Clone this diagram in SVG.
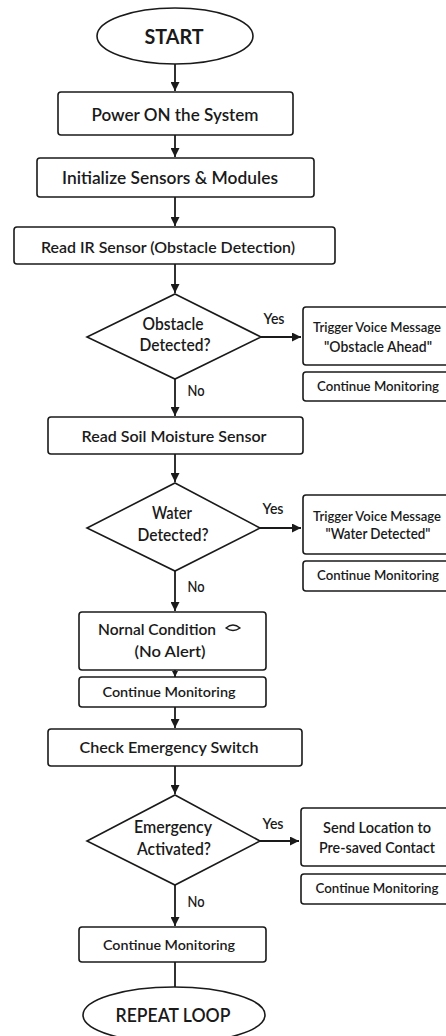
<svg xmlns="http://www.w3.org/2000/svg" width="446" height="1036" viewBox="0 0 446 1036">
  <style>
    .shape { fill: #ffffff; stroke: #1a1a1a; stroke-width: 1.6; }
    .line { fill: none; stroke: #1a1a1a; stroke-width: 1.8; }
    text { font-family: "Lato", "Open Sans", sans-serif; fill: #1a1a1a; text-anchor: middle; font-weight: 600; }
    .t17 { font-size: 16.5px; }
    .t16 { font-size: 15.5px; }
    .t15 { font-size: 14.5px; }
    .t14 { font-size: 14px; }
    .tv { font-size: 13px; }
    .lbl { font-size: 14.5px; }
    .term { font-size: 21px; font-weight: 700; }
  </style>
  <defs>
    <marker id="arrow" viewBox="0 0 10 10" refX="10" refY="5" markerWidth="9" markerHeight="9" orient="auto" markerUnits="userSpaceOnUse">
      <path d="M0,0 L10,5 L0,10 Z" fill="#1a1a1a"/>
    </marker>
    <marker id="arrow-small" viewBox="0 0 10 10" refX="10" refY="5" markerWidth="6" markerHeight="8" orient="auto" markerUnits="userSpaceOnUse">
      <path d="M0,0 L10,5 L0,10 Z" fill="#1a1a1a"/>
    </marker>
  </defs>
  <rect width="446" height="1036" fill="#ffffff"/>

  <!-- connectors -->
  <g id="connectors">
    <line class="line" x1="175" y1="64" x2="175" y2="91" marker-end="url(#arrow)"/>
    <line class="line" x1="175" y1="135" x2="175" y2="157" marker-end="url(#arrow)"/>
    <line class="line" x1="175" y1="197" x2="175" y2="226" marker-end="url(#arrow)"/>
    <line class="line" x1="175" y1="264" x2="175" y2="293" marker-end="url(#arrow)"/>
    <line class="line" x1="261" y1="337" x2="301" y2="337" marker-end="url(#arrow)"/>
    <line class="line" x1="175" y1="379" x2="175" y2="416" marker-end="url(#arrow)"/>
    <line class="line" x1="175" y1="454" x2="175" y2="482" marker-end="url(#arrow)"/>
    <line class="line" x1="260" y1="528" x2="301" y2="528" marker-end="url(#arrow)"/>
    <line class="line" x1="175" y1="571" x2="175" y2="611" marker-end="url(#arrow)"/>
    <line class="line" x1="175" y1="670" x2="175" y2="677" marker-end="url(#arrow-small)"/>
    <line class="line" x1="175" y1="707" x2="175" y2="728" marker-end="url(#arrow)"/>
    <line class="line" x1="175" y1="766" x2="175" y2="794" marker-end="url(#arrow)"/>
    <line class="line" x1="260" y1="841" x2="299" y2="841" marker-end="url(#arrow)"/>
    <line class="line" x1="175" y1="885" x2="175" y2="926" marker-end="url(#arrow)"/>
    <line class="line" x1="175" y1="962" x2="175" y2="987"/>
    <text class="lbl" x="274" y="324" textLength="21" lengthAdjust="spacingAndGlyphs">Yes</text>
    <text class="lbl" x="196" y="396" textLength="17" lengthAdjust="spacingAndGlyphs">No</text>
    <text class="lbl" x="273" y="514" textLength="21" lengthAdjust="spacingAndGlyphs">Yes</text>
    <text class="lbl" x="196" y="592" textLength="17" lengthAdjust="spacingAndGlyphs">No</text>
    <text class="lbl" x="273" y="829" textLength="21" lengthAdjust="spacingAndGlyphs">Yes</text>
    <text class="lbl" x="196" y="907" textLength="17" lengthAdjust="spacingAndGlyphs">No</text>
  </g>

  <g id="start">
    <ellipse class="shape" cx="175" cy="36" rx="78" ry="28"/>
    <text class="term" x="174" y="44" textLength="59" lengthAdjust="spacingAndGlyphs">START</text>
  </g>

  <g id="power-on">
    <rect class="shape" x="58" y="92" width="235" height="43" rx="3"/>
    <text class="t17" x="175" y="121" textLength="167" lengthAdjust="spacingAndGlyphs">Power ON the System</text>
  </g>

  <g id="initialize">
    <rect class="shape" x="37" y="158" width="277" height="39" rx="3"/>
    <text class="t17" x="170" y="184" textLength="216" lengthAdjust="spacingAndGlyphs">Initialize Sensors &amp; Modules</text>
  </g>

  <g id="read-ir">
    <rect class="shape" x="14" y="227" width="321" height="37" rx="3"/>
    <text class="t16" x="168" y="253" textLength="254" lengthAdjust="spacingAndGlyphs">Read IR Sensor (Obstacle Detection)</text>
  </g>

  <g id="obstacle-decision">
    <polygon class="shape" points="175,294 261,337 175,379 87,337"/>
    <text class="t17" x="173" y="330" textLength="61" lengthAdjust="spacingAndGlyphs">Obstacle</text>
    <text class="t17" x="175" y="351" textLength="71" lengthAdjust="spacingAndGlyphs">Detected?</text>
  </g>

  <g id="obstacle-voice">
    <rect class="shape" x="303" y="307" width="160" height="58" rx="3"/>
    <text class="tv" x="377" y="332" textLength="128" lengthAdjust="spacingAndGlyphs">Trigger Voice Message</text>
    <text class="t15" x="378" y="352" textLength="108" lengthAdjust="spacingAndGlyphs">"Obstacle Ahead"</text>
  </g>

  <g id="obstacle-continue">
    <rect class="shape" x="303" y="372" width="160" height="29" rx="3"/>
    <text class="t14" x="378" y="391" textLength="122" lengthAdjust="spacingAndGlyphs">Continue Monitoring</text>
  </g>

  <g id="read-soil">
    <rect class="shape" x="48" y="417" width="255" height="37" rx="3"/>
    <text class="t16" x="174" y="442" textLength="185" lengthAdjust="spacingAndGlyphs">Read Soil Moisture Sensor</text>
  </g>

  <g id="water-decision">
    <polygon class="shape" points="175,483 260,528 175,571 87,528"/>
    <text class="t17" x="172" y="519" textLength="40" lengthAdjust="spacingAndGlyphs">Water</text>
    <text class="t17" x="173" y="541" textLength="71" lengthAdjust="spacingAndGlyphs">Detected?</text>
  </g>

  <g id="water-voice">
    <rect class="shape" x="303" y="495" width="160" height="59" rx="3"/>
    <text class="tv" x="377" y="521" textLength="128" lengthAdjust="spacingAndGlyphs">Trigger Voice Message</text>
    <text class="t15" x="378" y="539" textLength="105" lengthAdjust="spacingAndGlyphs">"Water Detected"</text>
  </g>

  <g id="water-continue">
    <rect class="shape" x="303" y="561" width="160" height="30" rx="3"/>
    <text class="t14" x="378" y="580" textLength="122" lengthAdjust="spacingAndGlyphs">Continue Monitoring</text>
  </g>

  <g id="normal-condition">
    <rect class="shape" x="79" y="612" width="187" height="58" rx="3"/>
    <text class="t16" x="157" y="635" textLength="118" lengthAdjust="spacingAndGlyphs">Nornal Condition</text>
    <path d="M226,628 Q233,622 240,628 Q233,633 226,628 Z" fill="none" stroke="#1a1a1a" stroke-width="1.3"/>
    <text class="t16" x="170" y="657" textLength="71" lengthAdjust="spacingAndGlyphs">(No Alert)</text>
  </g>

  <g id="normal-continue">
    <rect class="shape" x="79" y="677" width="187" height="30" rx="3"/>
    <text class="t14" x="169" y="697" textLength="133" lengthAdjust="spacingAndGlyphs">Continue Monitoring</text>
  </g>

  <g id="check-emergency">
    <rect class="shape" x="48" y="729" width="254" height="37" rx="3"/>
    <text class="t16" x="169" y="753" textLength="179" lengthAdjust="spacingAndGlyphs">Check Emergency Switch</text>
  </g>

  <g id="emergency-decision">
    <polygon class="shape" points="175,795 260,841 175,885 87,841"/>
    <text class="t17" x="173" y="833" textLength="78" lengthAdjust="spacingAndGlyphs">Emergency</text>
    <text class="t17" x="174" y="855" textLength="74" lengthAdjust="spacingAndGlyphs">Activated?</text>
  </g>

  <g id="send-location">
    <rect class="shape" x="301" y="808" width="162" height="58" rx="3"/>
    <text class="t15" x="377" y="833" textLength="108" lengthAdjust="spacingAndGlyphs">Send Location to</text>
    <text class="t15" x="377" y="853" textLength="116" lengthAdjust="spacingAndGlyphs">Pre-saved Contact</text>
  </g>

  <g id="emergency-continue">
    <rect class="shape" x="301" y="874" width="162" height="30" rx="3"/>
    <text class="t14" x="377" y="893" textLength="123" lengthAdjust="spacingAndGlyphs">Continue Monitoring</text>
  </g>

  <g id="final-continue">
    <rect class="shape" x="79" y="927" width="187" height="35" rx="3"/>
    <text class="t14" x="169" y="950" textLength="132" lengthAdjust="spacingAndGlyphs">Continue Monitoring</text>
  </g>

  <g id="repeat-loop">
    <ellipse class="shape" cx="174" cy="1015" rx="91" ry="28"/>
    <text class="term" x="173" y="1022" textLength="115" lengthAdjust="spacingAndGlyphs" style="font-weight:600;font-size:19px">REPEAT LOOP</text>
  </g>
</svg>
